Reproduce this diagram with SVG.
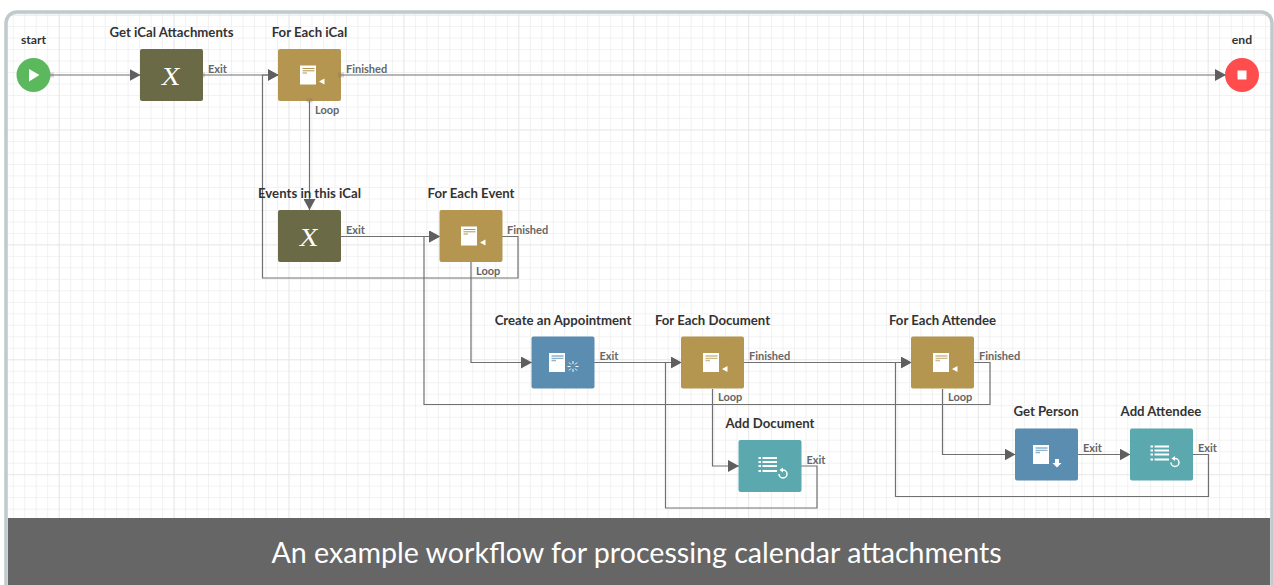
<svg xmlns="http://www.w3.org/2000/svg" width="1274" height="585" viewBox="0 0 1274 585">
<style>
text{font-family:"Lato","Open Sans","Liberation Sans",sans-serif}
.t{font-size:13.2px;font-weight:700;fill:#333;text-anchor:middle}
.s{font-size:12.200px}
.l{font-size:11px;font-weight:700;fill:#666}
.c{fill:none;stroke:#707070;stroke-width:1.200}
.p{fill:#666;opacity:.25}
.var{fill:#6b6a46}.loop{fill:#b59650}.blue{fill:#5b8db0}.teal{fill:#5ba8ae}
.x{font-family:"Liberation Serif",serif;font-size:26px;fill:#fff;text-anchor:middle}
.g{fill:#fff}
</style>
<defs>
<pattern id="minor" x="1.25" y="3.1" width="11.49" height="11.49" patternUnits="userSpaceOnUse"><path d="M0 0V11.49M0 0H11.49" fill="none" stroke="#eeeeee" stroke-width="1.500"/></pattern>
<pattern id="major" x="58.7" y="14.6" width="114.9" height="114.9" patternUnits="userSpaceOnUse"><path d="M0 0V114.9M0 0H114.9" fill="none" stroke="#e6e6e6" stroke-width="1.500"/></pattern>
<marker id="a" markerUnits="userSpaceOnUse" markerWidth="12" markerHeight="12" refX="11" refY="6" orient="auto"><path d="M0 0L11 6L0 12Z" fill="#5f5f5f"/></marker>
<g id="doc"><rect x="-8" y="-9.500" width="16" height="19" fill="#fff"/></g>
<g id="tri"><path d="M0 0L5.500-3V3Z" fill="#fff"/></g>
<g id="list"><path d="M-5.500-8H9M-5.500-4H9M-5.500 0H9M-5.500 5H9M-9.500-8H-7M-9.500-4H-7M-9.500 0H-7M-9.500 5H-7" stroke="#fff" stroke-width="2" fill="none"/><path d="M15 4A4 4 0 1 1 11 8" fill="none" stroke="#fff" stroke-width="1.500"/><path d="M15 1.500V6.500L11.500 4Z" fill="#fff"/></g>
</defs>
<rect x="7" y="12" width="1265" height="572" fill="#fff"/>
<rect x="7" y="12" width="1265" height="572" fill="url(#minor)"/>
<rect x="7" y="12" width="1265" height="572" fill="url(#major)"/>
<g id="connectors">
<path class="c" d="M50 75H140.500" marker-end="url(#a)"/>
<path class="c" d="M203 75H278.500" marker-end="url(#a)"/>
<path class="c" d="M341 75H1226" marker-end="url(#a)"/>
<path class="c" d="M309.500 101V210" marker-end="url(#a)"/>
<path class="c" d="M341 236.500H440" marker-end="url(#a)"/>
<path class="c" d="M502 236.500H518V278H262.500V75H278.500" marker-end="url(#a)"/>
<path class="c" d="M471 262V362.500H532" marker-end="url(#a)"/>
<path class="c" d="M594 362.500H681.500" marker-end="url(#a)"/>
<path class="c" d="M744 362.500H911.500" marker-end="url(#a)"/>
<path class="c" d="M974 362.500H990V404.500H424V236.500H440" marker-end="url(#a)"/>
<path class="c" d="M712.500 389V466H739" marker-end="url(#a)"/>
<path class="c" d="M801 466H817V508H665.500V362.500H681.500" marker-end="url(#a)"/>
<path class="c" d="M942.500 389V454.500H1015.500" marker-end="url(#a)"/>
<path class="c" d="M1078 454.500H1130.500" marker-end="url(#a)"/>
<path class="c" d="M1193 454.500H1208.500V496.500H895.500V362.500H911.500" marker-end="url(#a)"/>
</g>
<g id="n-start"><circle cx="33.500" cy="75" r="17" fill="#5cb85c"/><path d="M29 69V81.500L39.500 75Z" fill="#fff"/><rect class="p" x="50" y="72.500" width="4" height="5"/><text class="t s" x="33.500" y="44">start</text></g>
<g id="n-end"><circle cx="1242" cy="75" r="17" fill="#ff4d4d"/><rect x="1237.500" y="70.500" width="9" height="9" fill="#fff"/><text class="t s" x="1242" y="44">end</text></g>
<g id="n-getical"><rect class="var" x="140" y="49" width="63" height="52" rx="2"/><text class="x" transform="translate(170,84.500) skewX(-8)">X</text><rect class="p" x="199" y="72.500" width="6" height="5"/><text class="t" x="171.500" y="37">Get iCal Attachments</text><text class="l" x="208" y="73">Exit</text></g>
<g id="n-foreachical"><rect class="loop" x="278" y="49" width="63" height="52" rx="2"/><use href="#doc" x="308" y="75"/><path d="M302.500 68.500H314.500M302.500 70.800H314.500M302.500 73H307" stroke="#b59650" fill="none"/><use href="#tri" x="319" y="81.500"/><rect class="p" x="338" y="72.500" width="6" height="5"/><rect class="p" x="306.500" y="98.500" width="6" height="4"/><text class="t" x="309.500" y="37">For Each iCal</text><text class="l" x="346" y="73">Finished</text><text class="l" x="315" y="113.500">Loop</text></g>
<g id="n-events"><rect class="var" x="278" y="210" width="63" height="52" rx="2"/><text class="x" transform="translate(308,245.500) skewX(-8)">X</text><text class="t" x="309.500" y="198">Events in this iCal</text><text class="l" x="346" y="234">Exit</text></g>
<g id="n-foreachevent"><rect class="loop" x="439.500" y="210" width="63" height="52" rx="2"/><use href="#doc" x="469" y="236"/><path d="M463.500 229.500H475.500M463.500 231.800H475.500M463.500 234H468" stroke="#b59650" fill="none"/><use href="#tri" x="480" y="242.500"/><text class="t" x="471" y="198">For Each Event</text><text class="l" x="507" y="234">Finished</text><text class="l" x="476" y="275">Loop</text></g>
<g id="n-appointment"><rect class="blue" x="531.500" y="336.500" width="63" height="52" rx="2"/><use href="#doc" x="557" y="362.500"/><path d="M551.500 356H563.500M551.500 358.300H563.500M551.500 360.500H556" stroke="#8fb3cb" stroke-width="1.300" fill="none"/><path d="M573 361V364M573 369V372M567.500 366.500H570.500M575.500 366.500H578.500M569 362.500L571 364.500M575 368.500L577 370.500M577 362.500L575 364.500M571 368.500L569 370.500" stroke="#fff" fill="none"/><text class="t" x="563" y="325">Create an Appointment</text><text class="l" x="599.500" y="360">Exit</text></g>
<g id="n-foreachdoc"><rect class="loop" x="681" y="336.500" width="63" height="52" rx="2"/><use href="#doc" x="711" y="362.500"/><path d="M705.500 356H717.500M705.500 358.300H717.500M705.500 360.500H710" stroke="#cfba8c" stroke-width="1.300" fill="none"/><use href="#tri" x="722" y="369"/><text class="t" x="712.500" y="325">For Each Document</text><text class="l" x="749" y="360">Finished</text><text class="l" x="718" y="401">Loop</text></g>
<g id="n-foreachattendee"><rect class="loop" x="911" y="336.500" width="63" height="52" rx="2"/><use href="#doc" x="941" y="362.500"/><path d="M935.500 356H947.500M935.500 358.300H947.500M935.500 360.500H940" stroke="#cfba8c" stroke-width="1.300" fill="none"/><use href="#tri" x="952" y="369"/><text class="t" x="942.500" y="325">For Each Attendee</text><text class="l" x="979" y="360">Finished</text><text class="l" x="948" y="401">Loop</text></g>
<g id="n-adddoc"><rect class="teal" x="738.500" y="440" width="63" height="52" rx="2"/><use href="#list" x="768" y="466"/><text class="t" x="770" y="428">Add Document</text><text class="l" x="806.500" y="464">Exit</text></g>
<g id="n-getperson"><rect class="blue" x="1015" y="428.500" width="63" height="52" rx="2"/><use href="#doc" x="1041" y="454.500"/><path d="M1035.500 448H1047.500M1035.500 450.300H1047.500M1035.500 452.500H1040" stroke="#8fb3cb" stroke-width="1.300" fill="none"/><path d="M1055 459H1059V463H1061.500L1057 467.500L1052.500 463H1055Z" fill="#fff"/><text class="t" x="1046" y="416">Get Person</text><text class="l" x="1083" y="452">Exit</text></g>
<g id="n-addattendee"><rect class="teal" x="1130" y="428.500" width="63" height="52" rx="2"/><use href="#list" x="1160" y="454.500"/><text class="t" x="1161" y="416">Add Attendee</text><text class="l" x="1198" y="452">Exit</text></g>
<rect x="8" y="518" width="1262" height="67" fill="#666"/>
<text x="636.500" y="562.500" font-size="28.600" fill="#fff" text-anchor="middle">An example workflow for processing calendar attachments</text>
<rect x="6" y="12" width="1266" height="590" rx="11" fill="none" stroke="#c0c9cc" stroke-width="3.500"/>
</svg>
